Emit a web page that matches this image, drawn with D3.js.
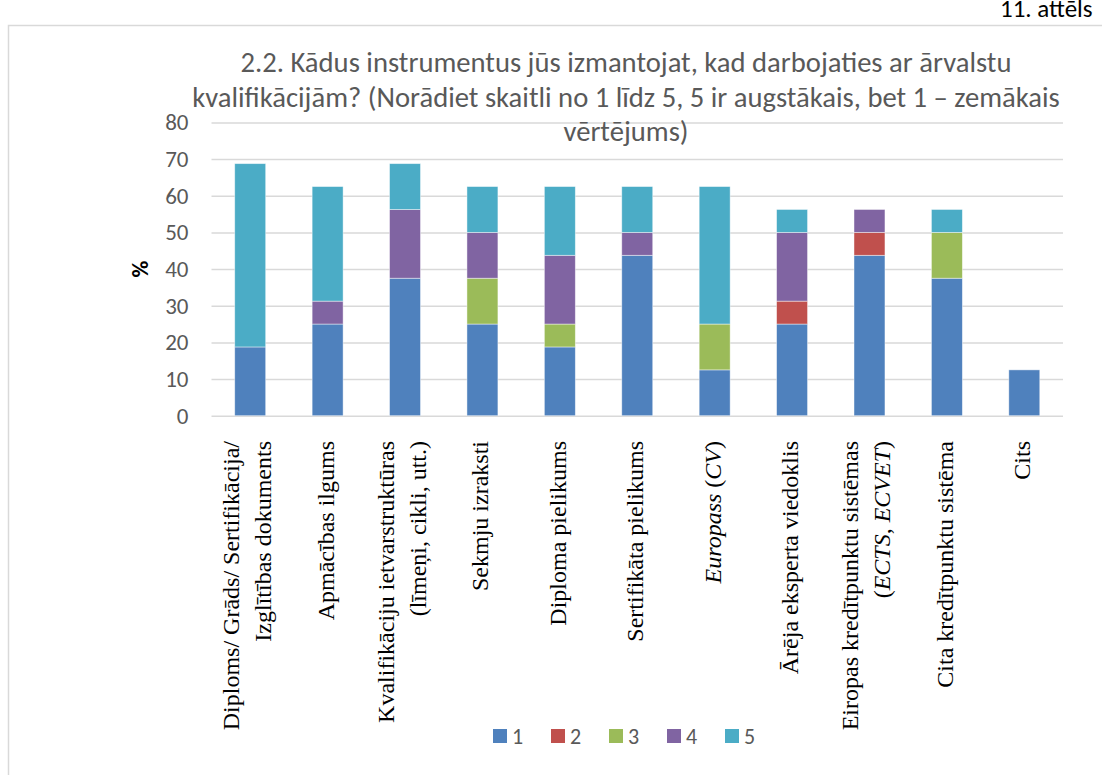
<!DOCTYPE html>
<html><head><meta charset="utf-8">
<script src="https://cdn.jsdelivr.net/npm/d3@7"></script>
<style>body{margin:0;background:#fff;overflow:hidden;} svg{display:block;}</style>
</head><body>
<svg id="chart" width="1102" height="775"></svg>
<script>
// ---------- DATA ----------
const categories = [
  ["Diploms/ Grāds/ Sertifikācija/", "Izglītības dokuments"],
  ["Apmācības ilgums"],
  ["Kvalifikāciju ietvarstruktūras", "(līmeņi, cikli, utt.)"],
  ["Sekmju izraksti"],
  ["Diploma pielikums"],
  ["Sertifikāta pielikums"],
  ["*Europass* (*CV*)"],
  ["Ārēja eksperta viedoklis"],
  ["Eiropas kredītpunktu sistēmas", "(*ECTS*, *ECVET*)"],
  ["Cita kredītpunktu sistēma"],
  ["Cits"]
];
const seriesNames = ["1", "2", "3", "4", "5"];
const s1 = [18.75, 25, 37.5, 25, 18.75, 43.75, 12.5, 25, 43.75, 37.5, 12.5];
const s2 = [0, 0, 0, 0, 0, 0, 0, 6.25, 6.25, 0, 0];
const s3 = [0, 0, 0, 12.5, 6.25, 0, 12.5, 0, 0, 12.5, 0];
const s4 = [0, 6.25, 18.75, 12.5, 18.75, 6.25, 0, 18.75, 6.25, 0, 0];
const s5 = [50, 31.25, 12.5, 12.5, 18.75, 12.5, 37.5, 6.25, 0, 6.25, 0];
const yTicks = [0, 10, 20, 30, 40, 50, 60, 70, 80];
const titleLines = [
  "2.2. Kādus instrumentus jūs izmantojat, kad darbojaties ar ārvalstu",
  "kvalifikācijām? (Norādiet skaitli no 1 līdz 5, 5 ir augstākais, bet 1 – zemākais",
  "vērtējums)"
];
const yAxisTitle = "%";
const figureCaption = "11. attēls";

// ---------- STYLE ----------
const colors = ["#4f81bd", "#c0504d", "#9bbb59", "#8064a2", "#4bacc6"];
const sansFont = "Carlito, Calibri, Lato, 'Open Sans', sans-serif";
const serifFont = "'Liberation Serif', 'Times New Roman', 'DejaVu Serif', serif";
const textGrey = "#595959";

const svg = d3.select("#chart");
const W = 1102, H = 775;

// frame
svg.append("path")
  .attr("d", `M8.5,${H + 5} L8.5,25.5 L${W + 5},25.5`)
  .attr("fill", "none").attr("stroke", "#d9d9d9").attr("stroke-width", 1.5);

// caption (partly outside the window, as in the source)
svg.append("text").attr("x", 1000).attr("y", 17)
  .attr("font-family", sansFont).attr("font-size", 25).attr("fill", "#000")
  .text(figureCaption);

// scales
const plot = {left: 211.5, right: 1063, top: 122.4, bottom: 415.7};
const x = d3.scaleBand().domain(d3.range(categories.length))
  .range([plot.left, plot.right]).paddingInner(0.6).paddingOuter(0.3);
const y = d3.scaleLinear().domain([0, 80]).range([plot.bottom, plot.top]);

// gridlines
const grid = svg.append("g").attr("transform", `translate(${plot.left},0)`)
  .call(d3.axisLeft(y).tickValues(yTicks).tickSize(-(plot.right - plot.left)).tickFormat(""));
grid.select(".domain").remove();
grid.selectAll(".tick line").attr("stroke", "#d9d9d9").attr("stroke-width", 1.5);

// y tick labels
const yAx = svg.append("g").attr("transform", `translate(${plot.left},0)`)
  .call(d3.axisLeft(y).tickValues(yTicks).tickSize(0).tickPadding(23));
yAx.select(".domain").remove();
yAx.selectAll("text").attr("font-family", sansFont).attr("font-size", 23)
  .attr("fill", textGrey);

// y axis title
svg.append("text")
  .attr("transform", `translate(148,${(plot.top + plot.bottom) / 2}) rotate(-90)`)
  .attr("text-anchor", "middle").attr("font-family", sansFont)
  .attr("font-size", 23).attr("font-weight", "bold").attr("fill", "#000")
  .text(yAxisTitle);

// stacked bars
const table = categories.map((c, i) => ({i, "1": s1[i], "2": s2[i], "3": s3[i], "4": s4[i], "5": s5[i]}));
const stacked = d3.stack().keys(seriesNames)(table);
svg.append("g").selectAll("g").data(stacked).join("g")
  .attr("fill", (d, k) => colors[k])
  .selectAll("rect").data(d => d.filter(p => p[1] - p[0] > 0)).join("rect")
  .attr("x", d => x(d.data.i))
  .attr("width", x.bandwidth())
  .attr("y", d => y(d[1]))
  .attr("height", d => y(d[0]) - y(d[1]))
  .attr("stroke", "#ffffff").attr("stroke-opacity", 0.55).attr("stroke-width", 0.8);

// category labels (rotated, Times)
const labelTop = 441;
const lab = svg.append("g");
categories.forEach((lines, i) => {
  const cx = x(i) + x.bandwidth() / 2;
  const n = lines.length;
  lines.forEach((line, j) => {
    let bx;
    if (n === 1) bx = cx + 6;
    else bx = cx + 5 + (j - (n - 1) / 2) * 32;
    const t = lab.append("text")
      .attr("transform", `translate(${bx},${labelTop}) rotate(-90)`)
      .attr("text-anchor", "end").attr("font-family", serifFont)
      .attr("font-size", 24).attr("fill", "#000");
    line.split("*").forEach((seg, k) => {
      if (seg === "") return;
      t.append("tspan").attr("font-style", k % 2 === 1 ? "italic" : "normal").text(seg);
    });
  });
});

// title
const titleCx = 626;
const titleBase = [71.7, 106.5, 141];
const tg = svg.append("g");
const titles = titleLines.map((tl, i) => tg.append("text")
  .attr("x", titleCx).attr("y", titleBase[i]).attr("text-anchor", "middle")
  .attr("font-family", sansFont).attr("font-size", 20).attr("fill", textGrey).text(tl));
const measured = titles[1].node().getComputedTextLength();
const fs = 20 * 868 / measured;
titles.forEach(t => t.attr("font-size", fs));

// legend
const legendX0 = 493, legendStep = 58, legendY = 729;
const lg = svg.append("g").selectAll("g").data(seriesNames).join("g")
  .attr("transform", (d, i) => `translate(${legendX0 + i * legendStep},${legendY})`);
lg.append("rect").attr("width", 14).attr("height", 14).attr("fill", (d, i) => colors[i]);
lg.append("text").attr("x", 19).attr("y", 15).attr("font-family", sansFont)
  .attr("font-size", 22).attr("fill", textGrey).text(d => d);
</script>
</body></html>
